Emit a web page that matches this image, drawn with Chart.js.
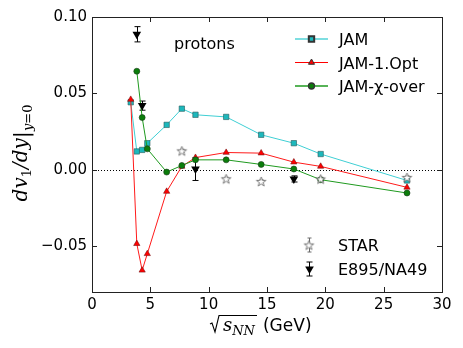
<!DOCTYPE html>
<html>
<head>
<meta charset="utf-8">
<script src="https://cdn.jsdelivr.net/npm/chart.js@4/dist/chart.umd.min.js"></script>
<style>
  body { margin: 0; background: #fff; }
  canvas { display: block; }
</style>
</head>
<body>
<canvas id="c" width="463" height="348"></canvas>
<script>
// collision energies (GeV) and dv1/dy values
const jamX = [3.32, 3.84, 4.3, 4.74, 6.4, 7.7, 8.87, 11.5, 14.5, 17.3, 19.6, 27];
const jamY = [0.0442, 0.012, 0.013, 0.0174, 0.0294, 0.040, 0.036, 0.0346, 0.0229, 0.0174, 0.0103, -0.007];

const optX = [3.32, 3.84, 4.3, 4.74, 6.4, 7.7, 8.87, 11.5, 14.5, 17.3, 19.6, 27];
const optY = [0.046, -0.0484, -0.0658, -0.055, -0.0142, 0.0022, 0.008, 0.0113, 0.0109, 0.005, 0.0022, -0.0115];

const chiX = [3.84, 4.3, 4.74, 6.4, 7.7, 8.87, 11.5, 14.5, 17.3, 19.6, 27];
const chiY = [0.0645, 0.0342, 0.0137, -0.0015, 0.0028, 0.0065, 0.0065, 0.0035, 0.0005, -0.0065, -0.0152];

const starX = [7.7, 11.5, 14.5, 19.6, 27];
const starY = [0.0124, -0.0059, -0.0076, -0.006, -0.005];
const starErr = [0.001, 0.001, 0.001, 0.001, 0.001];

const e895X = [3.84, 4.3, 8.87, 17.3];
const e895Y = [0.0887, 0.042, 0.0005, -0.006];
const e895Err = [0.005, 0.003, 0.0075, 0.002];

const xTicks = [0, 5, 10, 15, 20, 25, 30];
const yTicks = [-0.05, 0, 0.05, 0.10];

const pts = (xs, ys) => xs.map((x, i) => ({ x: x, y: ys[i] }));

// hollow five point star like matplotlib '*'
function makeStar(R, fill, stroke) {
  const size = Math.ceil(R * 2 + 3);
  const c = document.createElement('canvas');
  c.width = c.height = size;
  const g = c.getContext('2d');
  g.beginPath();
  for (let i = 0; i < 10; i++) {
    const r = i % 2 ? R * 0.4 : R;
    const a = -Math.PI / 2 + i * Math.PI / 5;
    const px = size / 2 + r * Math.cos(a), py = size / 2 + 0.5 + r * Math.sin(a);
    i ? g.lineTo(px, py) : g.moveTo(px, py);
  }
  g.closePath();
  g.fillStyle = fill; g.fill();
  g.strokeStyle = stroke; g.lineWidth = 0.9; g.stroke();
  return c;
}
const starImg = makeStar(5, '#ffffff', '#6a6a6a');

const SANS = '"DejaVu Sans", sans-serif';
const SERIF = '"DejaVu Serif", serif';

function drawErr(ctx, chart, xs, ys, errs, color, cap) {
  const sx = chart.scales.x, sy = chart.scales.y;
  ctx.save();
  ctx.strokeStyle = color; ctx.lineWidth = 1;
  xs.forEach((x, i) => {
    const px = Math.round(sx.getPixelForValue(x)) + 0.5;
    const top = sy.getPixelForValue(ys[i] + errs[i]);
    const bot = sy.getPixelForValue(ys[i] - errs[i]);
    ctx.beginPath();
    ctx.moveTo(px, top); ctx.lineTo(px, bot);
    ctx.moveTo(px - cap, top); ctx.lineTo(px + cap, top);
    ctx.moveTo(px - cap, bot); ctx.lineTo(px + cap, bot);
    ctx.stroke();
  });
  ctx.restore();
}

// draw runs of text pieces: [text, font, dy]
function drawRuns(ctx, runs, x, y) {
  let cx = x;
  runs.forEach(r => {
    ctx.font = r[1];
    ctx.fillText(r[0], cx, y + (r[2] || 0));
    cx += ctx.measureText(r[0]).width;
  });
  return cx - x;
}
function runsWidth(ctx, runs) {
  let w = 0;
  runs.forEach(r => { ctx.font = r[1]; w += ctx.measureText(r[0]).width; });
  return w;
}

const decor = {
  id: 'decor',
  beforeDatasetsDraw(chart) {
    const ctx = chart.ctx, ca = chart.chartArea, sy = chart.scales.y;
    // dotted zero line
    const y0 = Math.round(sy.getPixelForValue(0)) + 0.5;
    ctx.save();
    ctx.strokeStyle = '#000'; ctx.lineWidth = 1; ctx.setLineDash([1, 2]);
    ctx.beginPath(); ctx.moveTo(ca.left, y0); ctx.lineTo(ca.right, y0); ctx.stroke();
    ctx.restore();
    drawErr(ctx, chart, starX, starY, starErr, '#6a6a6a', 2);
    drawErr(ctx, chart, e895X, e895Y, e895Err, '#000', 3);
  },
  afterDraw(chart) {
    const ctx = chart.ctx, ca = chart.chartArea;
    const sx = chart.scales.x, sy = chart.scales.y;
    ctx.save();
    // frame
    ctx.strokeStyle = '#222'; ctx.lineWidth = 1;
    ctx.strokeRect(Math.round(ca.left) + 0.5, Math.round(ca.top) + 0.5,
      Math.round(ca.right - ca.left), Math.round(ca.bottom - ca.top));
    // inward ticks on all four sides
    ctx.beginPath();
    xTicks.forEach(v => {
      const px = Math.round(sx.getPixelForValue(v)) + 0.5;
      ctx.moveTo(px, ca.bottom); ctx.lineTo(px, ca.bottom - 5);
      ctx.moveTo(px, ca.top); ctx.lineTo(px, ca.top + 5);
    });
    yTicks.forEach(v => {
      const py = Math.round(sy.getPixelForValue(v)) + 0.5;
      ctx.moveTo(ca.left, py); ctx.lineTo(ca.left + 5, py);
      ctx.moveTo(ca.right, py); ctx.lineTo(ca.right - 5, py);
    });
    ctx.stroke();

    ctx.fillStyle = '#000';
    ctx.textBaseline = 'alphabetic';
    ctx.textAlign = 'left';
    ctx.font = '16px ' + SANS;
    ctx.fillText('protons', ca.left + 82, ca.top + 32);

    // model legend
    const items = [
      { label: 'JAM', line: 'rgba(40,200,205,0.6)', lw: 2, fill: '#1cb8bc', style: 'rect', r: 3.8 },
      { label: 'JAM-1.Opt', line: '#ff0000', lw: 1, fill: '#ff0000', style: 'triangle', r: 3.5 },
      { label: 'JAM-\u03c7-over', line: '#1f9a1f', lw: 1.3, fill: '#0b7d0b', style: 'circle', r: 3 }
    ];
    items.forEach((it, i) => {
      const y = ca.top + 22 + i * 23.5;
      ctx.strokeStyle = it.line; ctx.lineWidth = it.lw;
      ctx.beginPath(); ctx.moveTo(ca.right - 147, y); ctx.lineTo(ca.right - 114, y); ctx.stroke();
      ctx.fillStyle = it.fill; ctx.strokeStyle = '#333';
      Chart.helpers.drawPoint(ctx, { pointStyle: it.style, radius: it.r, rotation: 0, borderWidth: 0.6 }, ca.right - 130.5, y);
      ctx.fillStyle = '#000';
      ctx.font = '16px ' + SANS;
      ctx.fillText(it.label, ca.right - 103, y + 6);
    });

    // data legend
    const lx = ca.right - 133;
    let ly = ca.bottom - 47;
    ctx.strokeStyle = '#6a6a6a'; ctx.lineWidth = 1;
    ctx.beginPath();
    ctx.moveTo(lx + 0.5, ly - 7); ctx.lineTo(lx + 0.5, ly + 7);
    ctx.moveTo(lx - 1.5, ly - 7); ctx.lineTo(lx + 2.5, ly - 7);
    ctx.moveTo(lx - 1.5, ly + 7); ctx.lineTo(lx + 2.5, ly + 7);
    ctx.stroke();
    ctx.drawImage(starImg, lx - starImg.width / 2, ly - starImg.height / 2);
    ctx.fillStyle = '#000';
    ctx.font = '16px ' + SANS;
    ctx.fillText('STAR', ca.right - 104, ly + 6);
    ly = ca.bottom - 23;
    ctx.strokeStyle = '#000';
    ctx.beginPath();
    ctx.moveTo(lx + 0.5, ly - 7); ctx.lineTo(lx + 0.5, ly + 7);
    ctx.moveTo(lx - 2.5, ly - 7); ctx.lineTo(lx + 3.5, ly - 7);
    ctx.moveTo(lx - 2.5, ly + 7); ctx.lineTo(lx + 3.5, ly + 7);
    ctx.stroke();
    ctx.fillStyle = '#000';
    Chart.helpers.drawPoint(ctx, { pointStyle: 'triangle', radius: 5, rotation: 180, borderWidth: 0 }, lx + 0.5, ly);
    ctx.fillText('E895/NA49', ca.right - 104, ly + 6);

    // x title: sqrt(s_NN) (GeV)
    const ty = 331;
    const inner = [
      ['s', 'italic 18px ' + SERIF, 0],
      ['NN', 'italic 13px ' + SERIF, 4]
    ];
    const innerW = runsWidth(ctx, inner);
    const rx = 210;
    // radical sign
    ctx.strokeStyle = '#000'; ctx.lineWidth = 1.1;
    ctx.beginPath();
    ctx.moveTo(rx, ty - 7); ctx.lineTo(rx + 2, ty - 8);
    ctx.lineTo(rx + 5, ty + 1); ctx.lineTo(rx + 9, ty - 15.5);
    ctx.lineTo(rx + 15 + innerW, ty - 15.5);
    ctx.stroke();
    drawRuns(ctx, inner, rx + 13, ty);
    ctx.font = '17px ' + SANS;
    ctx.fillText('(GeV)', rx + 13 + innerW + 8, ty);

    // y title: dv1/dy|y=0
    const yr = [
      ['dv', 'italic 20px ' + SERIF, 0],
      ['1', '13px ' + SERIF, 4],
      ['/dy', 'italic 20px ' + SERIF, 0],
      ['|', '21px ' + SERIF, 1],
      ['y', 'italic 13px ' + SERIF, 5],
      ['=0', '13px ' + SERIF, 5]
    ];
    const yw = runsWidth(ctx, yr);
    ctx.translate(27, 153);
    ctx.rotate(-Math.PI / 2);
    drawRuns(ctx, yr, -yw / 2, 0);
    ctx.restore();
  }
};

new Chart(document.getElementById('c'), {
  type: 'scatter',
  data: {
    datasets: [
      {
        label: 'JAM', data: pts(jamX, jamY), showLine: true, order: 3,
        borderColor: '#3fcfd4', borderWidth: 1,
        pointStyle: 'rect', pointRadius: 3.8, pointBackgroundColor: '#1cb8bc',
        pointBorderColor: '#2a5a5a', pointBorderWidth: 0.6
      },
      {
        label: 'JAM-1.Opt', data: pts(optX, optY), showLine: true, order: 2,
        borderColor: '#ff1a1a', borderWidth: 1,
        pointStyle: 'triangle', pointRadius: 3.6, pointBackgroundColor: '#ff0000',
        pointBorderColor: '#7a1010', pointBorderWidth: 0.6
      },
      {
        label: 'JAM-chi-over', data: pts(chiX, chiY), showLine: true, order: 1,
        borderColor: '#1f9a1f', borderWidth: 1,
        pointStyle: 'circle', pointRadius: 3, pointBackgroundColor: '#0b7d0b',
        pointBorderColor: '#1a3a1a', pointBorderWidth: 0.6
      },
      {
        label: 'STAR', data: pts(starX, starY), showLine: false, order: 0,
        pointStyle: starImg, pointRadius: 5
      },
      {
        label: 'E895/NA49', data: pts(e895X, e895Y), showLine: false, order: 0,
        pointStyle: 'triangle', rotation: 180, pointRadius: 5,
        pointBackgroundColor: '#000', pointBorderColor: '#000', pointBorderWidth: 0
      }
    ]
  },
  options: {
    responsive: false,
    animation: false,
    devicePixelRatio: 1,
    layout: { padding: { top: 17, right: 21, left: 0, bottom: 0 } },
    plugins: { legend: { display: false }, tooltip: { enabled: false } },
    scales: {
      x: {
        type: 'linear', min: 0, max: 30,
        afterBuildTicks: s => { s.ticks = xTicks.map(v => ({ value: v })); },
        afterFit: s => { s.height = 56; },
        grid: { display: false, drawTicks: false },
        border: { display: false },
        ticks: { color: '#000', font: { size: 15, family: SANS }, padding: 4, maxRotation: 0 }
      },
      y: {
        type: 'linear', min: -0.08, max: 0.10,
        afterBuildTicks: s => { s.ticks = yTicks.map(v => ({ value: v })); },
        afterFit: s => { s.width = 92; },
        grid: { display: false, drawTicks: false },
        border: { display: false },
        ticks: {
          color: '#000', font: { size: 15, family: SANS }, padding: 5,
          callback: v => (v < 0 ? '\u2212' : '') + Math.abs(v).toFixed(2)
        }
      }
    }
  },
  plugins: [decor]
});
</script>
</body>
</html>
